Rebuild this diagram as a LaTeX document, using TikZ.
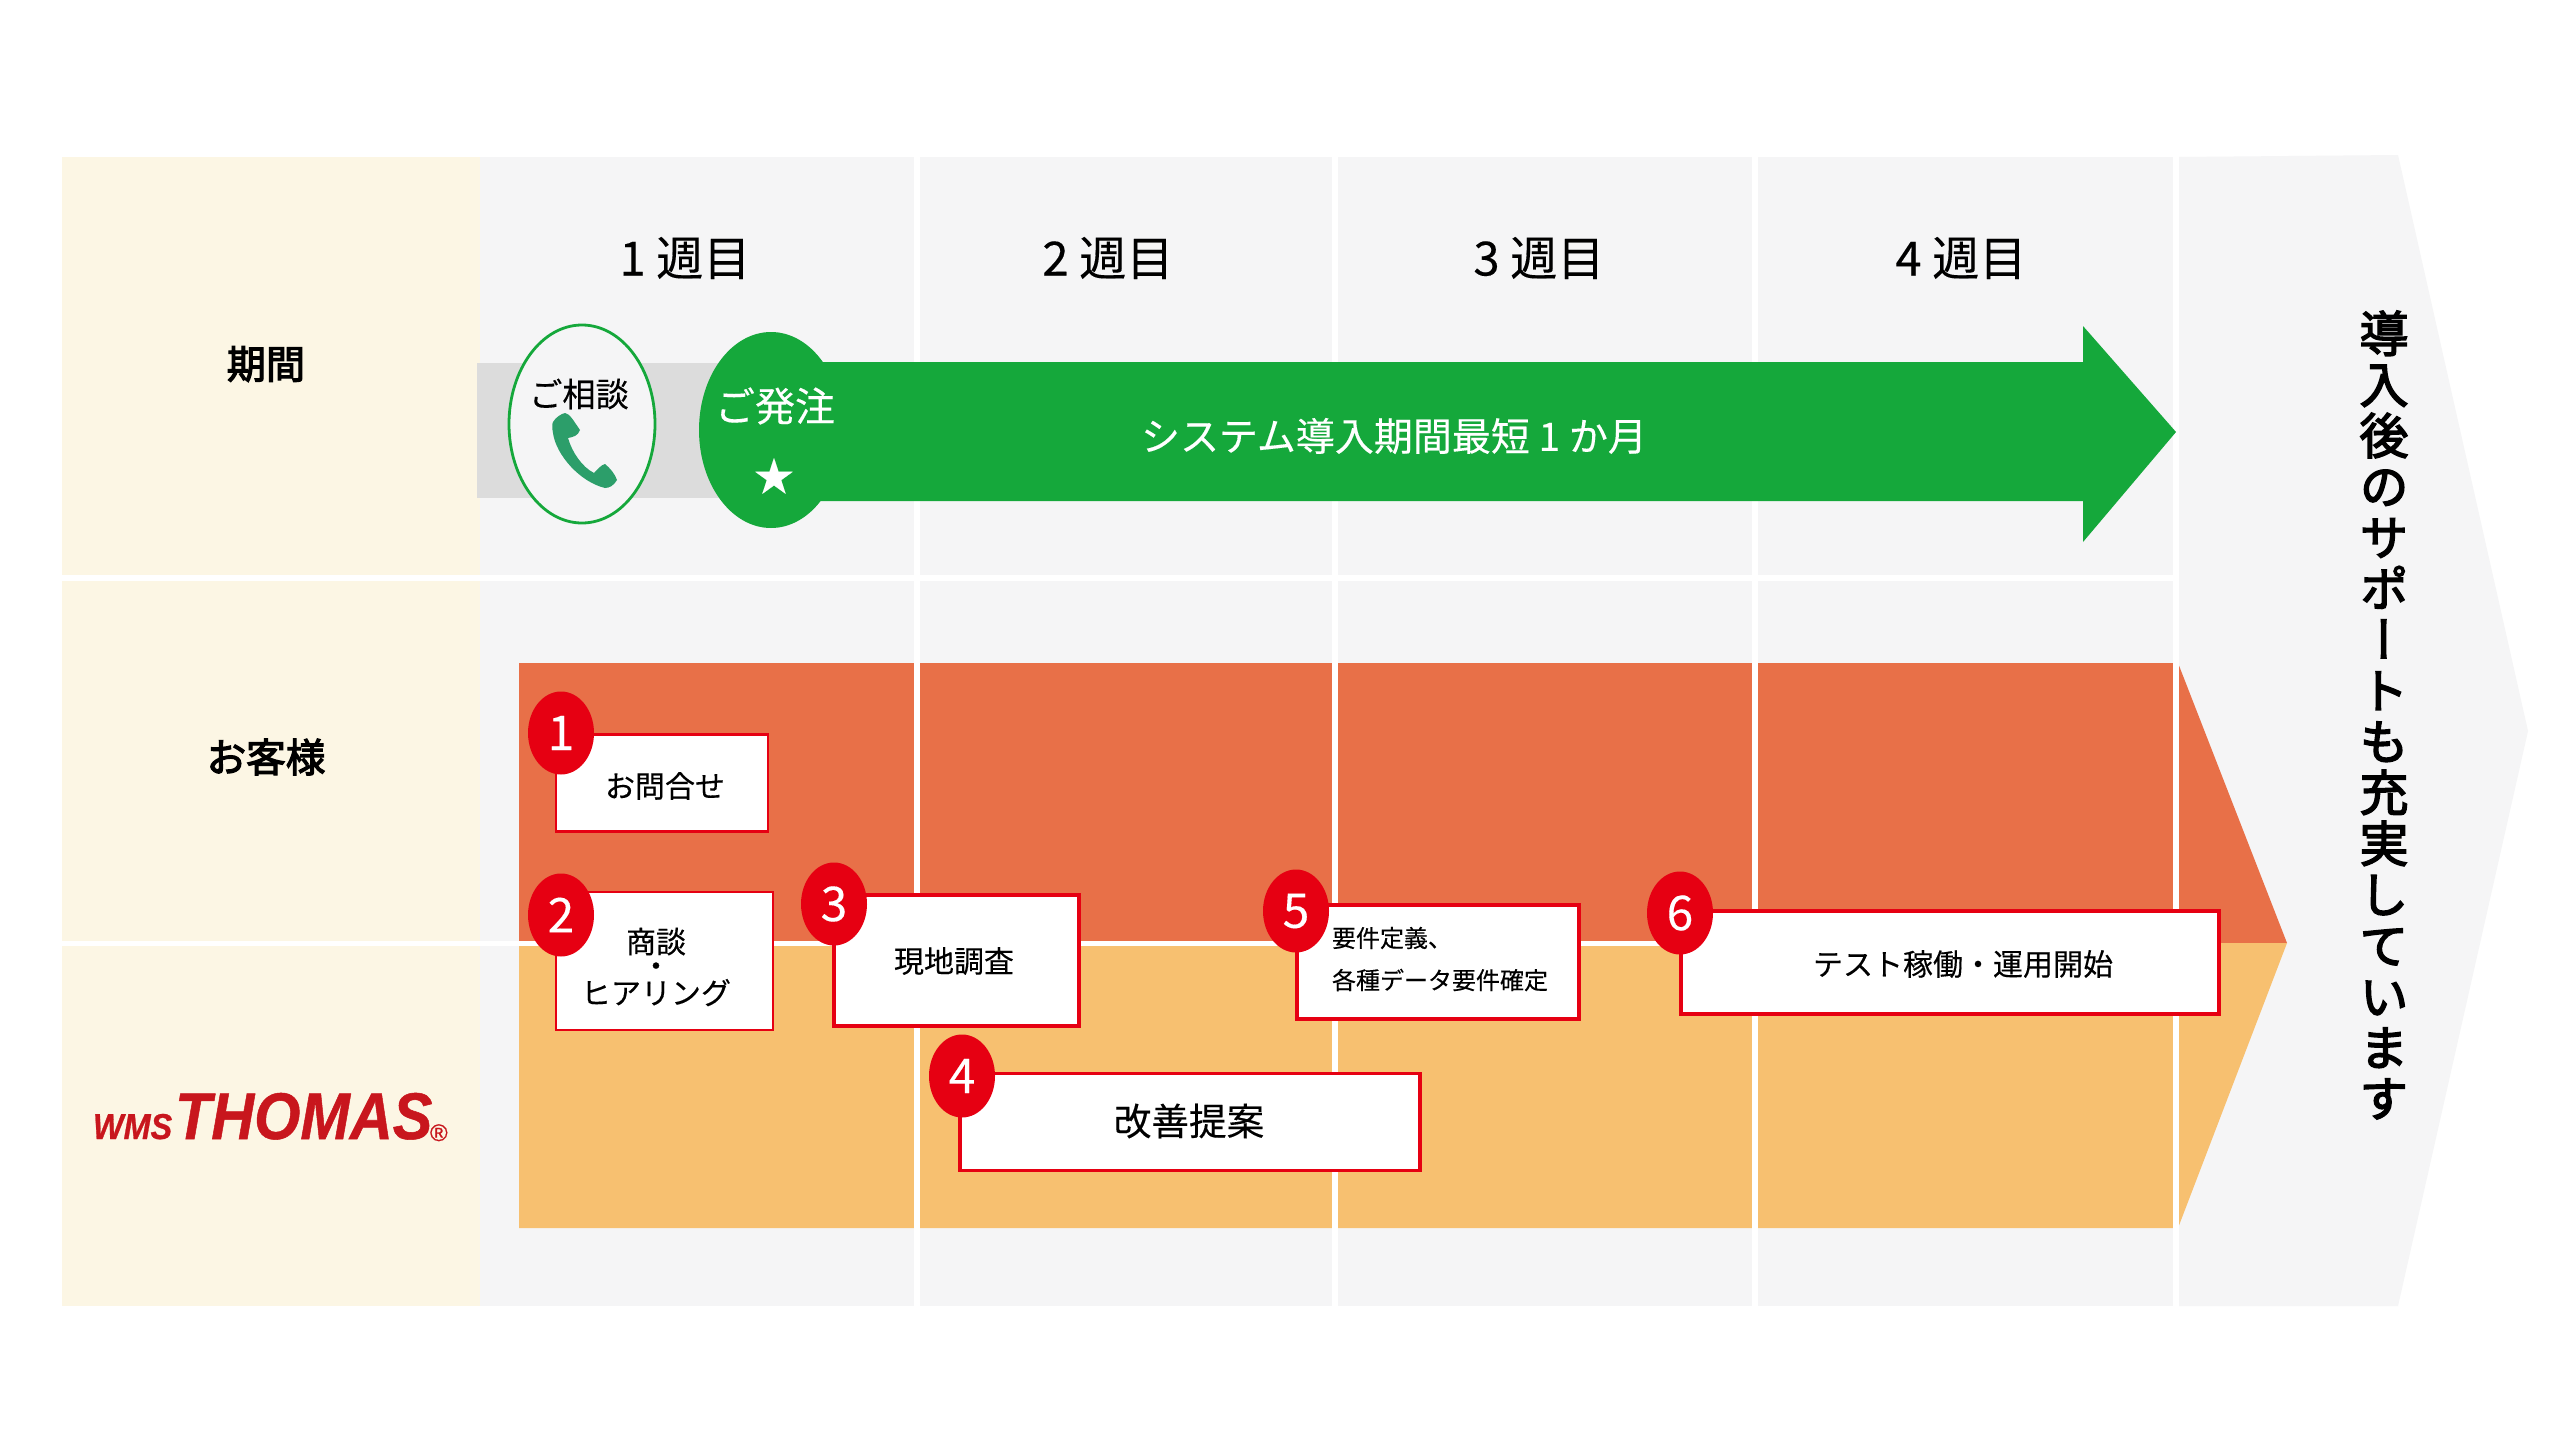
\documentclass[tikz,border=0pt]{standalone}
\usepackage{fontspec}
\setmainfont[FakeBold=0.25]{Noto Sans CJK JP}
\newfontfamily\medf[FakeBold=3]{Noto Sans CJK JP}
\newfontfamily\vfont[RawFeature=+vert,FakeBold=3]{Noto Sans CJK JP}
\newfontfamily\logofont[FakeBold=0.8]{Liberation Sans}
\newcommand{\fsz}[1]{\fontsize{#1pt}{#1pt}\selectfont}
\definecolor{beige}{HTML}{FCF6E4}
\definecolor{panel}{HTML}{F5F5F6}
\definecolor{barg}{HTML}{DCDCDC}
\definecolor{grn}{HTML}{15A83B}
\definecolor{phone}{HTML}{2C9E6A}
\definecolor{topor}{HTML}{E87048}
\definecolor{lowor}{HTML}{F7C070}
\definecolor{brandred}{HTML}{E60012}
\definecolor{logored}{HTML}{C8161D}
\tikzset{
  x=0.5pt,y=-0.5pt,
  txt/.style={inner sep=0pt,outer sep=0pt,text=black,align=center},
  taskbox/.style={draw=brandred,fill=white,line width=1.3pt,inner sep=0pt,rectangle},
  badge/.style={ellipse,fill=brandred,inner sep=0pt,minimum width=33pt,minimum height=41.5pt,text=white,font=\fsz{24}},
  sep/.style={white,line width=3pt},
}
\usetikzlibrary{shapes.geometric}
\begin{document}
\begin{tikzpicture}
\useasboundingbox[fill=white] (0,0) rectangle (2560,1440);
% backgrounds
\fill[panel] (480,157) rectangle (2173,1306);
\fill[panel] (2179,157) -- (2398,155) -- (2528,731) -- (2398,1306) -- (2179,1306) -- cycle;
\fill[beige] (62,157) rectangle (480,1306);
% process bands
\fill[topor] (519,663) -- (2178,663) -- (2287,943) -- (519,943) -- cycle;
\fill[lowor] (519,943) -- (2287,943) -- (2178,1228) -- (519,1228) -- cycle;
% separators
\coordinate (v1t) at (917,157); \coordinate (v1b) at (917,1306);
\coordinate (v2t) at (1335,157); \coordinate (v2b) at (1335,1306);
\coordinate (v3t) at (1755,157); \coordinate (v3b) at (1755,1306);
\coordinate (v4t) at (2176,157); \coordinate (v4b) at (2176,1306);
\coordinate (h1l) at (62,578); \coordinate (h1r) at (2176,578);
\coordinate (h2l) at (62,943); \coordinate (h2r) at (2178,943);
\draw[sep] (v1t) -- (v1b);
\draw[sep] (v2t) -- (v2b);
\draw[sep] (v3t) -- (v3b);
\draw[sep] (v4t) -- (v4b);
\draw[sep] (h1l) -- (h1r);
\draw[sep,line width=2.5pt] (h2l) -- (h2r);
% period row
\fill[barg] (477,363) rectangle (740,498);
\fill[grn] (770,362) -- (2083,362) -- (2083,326) -- (2176,432) -- (2083,542) -- (2083,501) -- (770,501) -- cycle;
\node[ellipse,draw=grn,fill=panel,line width=1.4pt,minimum width=73pt,minimum height=99pt,inner sep=0pt] (consult) at (582,424) {};
\node[ellipse,fill=grn,minimum width=72pt,minimum height=98pt,inner sep=0pt] (order) at (771,430) {};
\fill[phone] (565,413) .. controls (570,414) and (573,420) .. (580,430)
  .. controls (578,436) and (573,437) .. (568,438)
  .. controls (572,452) and (582,467) .. (594,473)
  .. controls (598,469) and (601,465) .. (605,464)
  .. controls (610,468) and (615,474) .. (617,480)
  .. controls (614,485) and (610,488) .. (605,488)
  .. controls (580,482) and (556,455) .. (553,433)
  .. controls (552,428) and (552,424) .. (553,422)
  .. controls (556,417) and (561,414) .. (565,413) -- cycle;
% texts
\node[txt,font=\fsz{23.6}] (w1) at (685,258) {1 週目};
\node[txt,font=\fsz{23.6}] (w2) at (1108,258) {2 週目};
\node[txt,font=\fsz{23.6}] (w3) at (1539,258) {3 週目};
\node[txt,font=\fsz{23.6}] (w4) at (1961,258) {4 週目};
\node[txt,font=\medf\fsz{19.6}] (lab1) at (266,364) {期間};
\node[txt,font=\medf\fsz{19.8}] (lab2) at (266,757) {お客様};
\node[txt,font=\fsz{16.6}] (consulttxt) at (579,394) {ご相談};
\node[txt,font=\fsz{20},text=white] (ordertxt) at (775,406) {ご発注};
\node[txt,font=\fsz{20},text=white] (star) at (774,476) {★};
\node[txt,font=\fsz{19.5},text=white] (span) at (1394,436) {システム導入期間最短 1 か月};
% logo
\node[txt,font=\logofont\bfseries\itshape\fsz{18},text=logored,xscale=0.9,anchor=base west] (logoa) at (93,1139) {WMS};
\node[txt,font=\logofont\bfseries\itshape\fsz{33},text=logored,xscale=0.9,anchor=base west] (logob) at (175,1139) {THOMAS};
\node[txt,font=\logofont\fsz{12},text=logored,anchor=base west] (logoc) at (430,1141) {®};
% vertical text
\node[txt,font=\vfont\fsz{24.5},align=center,execute at begin node={\setlength{\baselineskip}{25.5pt}}] (post) at (2384,715) {導\\入\\後\\の\\サ\\ポ\\ー\\ト\\も\\充\\実\\し\\て\\い\\ま\\す};
% task boxes
\node[taskbox,minimum width=106pt,minimum height=48.5pt] (box1) at (662,783) {};
\node[taskbox,minimum width=108.5pt,minimum height=69pt] (box2) at (664.5,961) {};
\node[taskbox,minimum width=122.5pt,minimum height=65.5pt,line width=1.6pt] (box3) at (956.5,960.5) {};
\node[taskbox,minimum width=230pt,minimum height=48.5pt,line width=1.6pt] (box4) at (1190,1122) {};
\node[taskbox,minimum width=141pt,minimum height=57pt,line width=1.6pt] (box5) at (1438,962) {};
\node[taskbox,minimum width=269pt,minimum height=51.5pt,line width=1.8pt] (box6) at (1950,962.5) {};
\node[txt,font=\fsz{15}] (t1) at (665,786) {お問合せ};
\node[txt,font=\fsz{15},execute at begin node={\setlength{\baselineskip}{12pt}}] (t2) at (656,967) {商談\\・\\ヒアリング};
\node[txt,font=\fsz{15}] (t3) at (954,961) {現地調査};
\node[txt,font=\fsz{18.8}] (t4) at (1189,1121) {改善提案};
\node[txt,font=\fsz{12},anchor=west] (t5a) at (1332,938) {要件定義、};
\node[txt,font=\fsz{12},anchor=west] (t5b) at (1332,980) {各種データ要件確定};
\node[txt,font=\fsz{15}] (t6) at (1963,964) {テスト稼働・運用開始};
% badges
\node[badge] (b1) at (561,733) {1};
\node[badge] (b2) at (561,915) {2};
\node[badge] (b3) at (834,904) {3};
\node[badge] (b4) at (962,1076) {4};
\node[badge] (b5) at (1296,911) {5};
\node[badge] (b6) at (1680,913) {6};
\end{tikzpicture}
\end{document}
